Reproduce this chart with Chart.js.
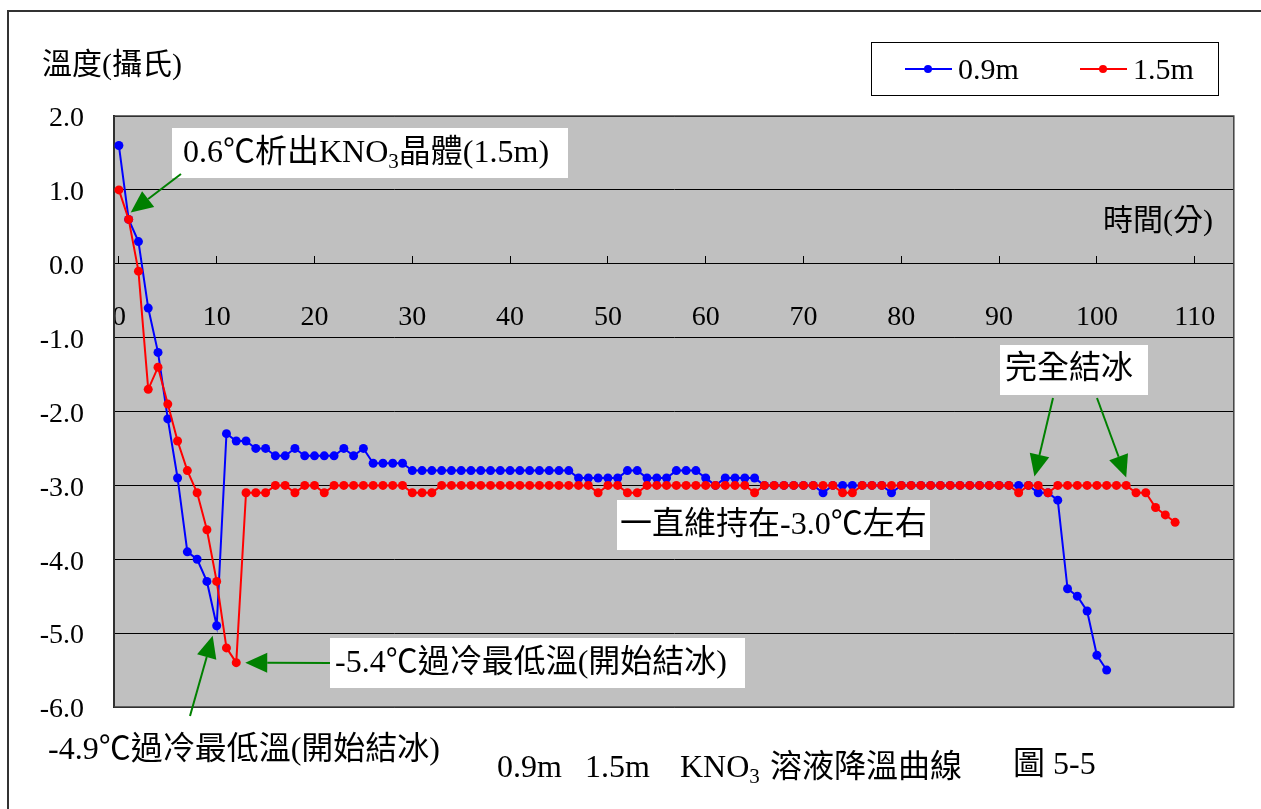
<!DOCTYPE html>
<html>
<head>
<meta charset="utf-8">
<script src="https://cdn.jsdelivr.net/npm/chart.js@4.4.1/dist/chart.umd.min.js"></script>
<style>
  html, body { margin: 0; padding: 0; background: #fff; }
  #wrap { width: 1261px; height: 809px; }
</style>
</head>
<body>
<div id="wrap"><canvas id="coolingChart" width="1261" height="809"></canvas></div>
<script>
// 時間(分)
const timeMin = [
  0, 1, 2, 3, 4, 5, 6, 7, 8, 9,
  10, 11, 12, 13, 14, 15, 16, 17, 18, 19,
  20, 21, 22, 23, 24, 25, 26, 27, 28, 29,
  30, 31, 32, 33, 34, 35, 36, 37, 38, 39,
  40, 41, 42, 43, 44, 45, 46, 47, 48, 49,
  50, 51, 52, 53, 54, 55, 56, 57, 58, 59,
  60, 61, 62, 63, 64, 65, 66, 67, 68, 69,
  70, 71, 72, 73, 74, 75, 76, 77, 78, 79,
  80, 81, 82, 83, 84, 85, 86, 87, 88, 89,
  90, 91, 92, 93, 94, 95, 96, 97, 98, 99,
  100, 101, 102, 103, 104, 105, 106, 107, 108
];

// 0.9m 溫度
const temp09 = [
  1.6, 0.6, 0.3, -0.6, -1.2, -2.1, -2.9, -3.9, -4.0, -4.3,
  -4.9, -2.3, -2.4, -2.4, -2.5, -2.5, -2.6, -2.6, -2.5, -2.6,
  -2.6, -2.6, -2.6, -2.5, -2.6, -2.5, -2.7, -2.7, -2.7, -2.7,
  -2.8, -2.8, -2.8, -2.8, -2.8, -2.8, -2.8, -2.8, -2.8, -2.8,
  -2.8, -2.8, -2.8, -2.8, -2.8, -2.8, -2.8, -2.9, -2.9, -2.9,
  -2.9, -2.9, -2.8, -2.8, -2.9, -2.9, -2.9, -2.8, -2.8, -2.8,
  -2.9, -3.0, -2.9, -2.9, -2.9, -2.9, -3.0, -3.0, -3.0, -3.0,
  -3.0, -3.0, -3.1, -3.0, -3.0, -3.0, -3.0, -3.0, -3.0, -3.1,
  -3.0, -3.0, -3.0, -3.0, -3.0, -3.0, -3.0, -3.0, -3.0, -3.0,
  -3.0, -3.0, -3.0, -3.0, -3.1, -3.1, -3.2, -4.4, -4.5, -4.7,
  -5.3, -5.5
];

// 1.5m 溫度
const temp15 = [
  1.0, 0.6, -0.1, -1.7, -1.4, -1.9, -2.4, -2.8, -3.1, -3.6,
  -4.3, -5.2, -5.4, -3.1, -3.1, -3.1, -3.0, -3.0, -3.1, -3.0,
  -3.0, -3.1, -3.0, -3.0, -3.0, -3.0, -3.0, -3.0, -3.0, -3.0,
  -3.1, -3.1, -3.1, -3.0, -3.0, -3.0, -3.0, -3.0, -3.0, -3.0,
  -3.0, -3.0, -3.0, -3.0, -3.0, -3.0, -3.0, -3.0, -3.0, -3.1,
  -3.0, -3.0, -3.1, -3.1, -3.0, -3.0, -3.0, -3.0, -3.0, -3.0,
  -3.0, -3.0, -3.0, -3.0, -3.0, -3.1, -3.0, -3.0, -3.0, -3.0,
  -3.0, -3.0, -3.0, -3.0, -3.1, -3.1, -3.0, -3.0, -3.0, -3.0,
  -3.0, -3.0, -3.0, -3.0, -3.0, -3.0, -3.0, -3.0, -3.0, -3.0,
  -3.0, -3.0, -3.1, -3.0, -3.0, -3.1, -3.0, -3.0, -3.0, -3.0,
  -3.0, -3.0, -3.0, -3.0, -3.1, -3.1, -3.3, -3.4, -3.5
];

const seriesNames = ['0.9m', '1.5m'];
const xTicks = [0, 10, 20, 30, 40, 50, 60, 70, 80, 90, 100, 110];
const yTicks = [2, 1, 0, -1, -2, -3, -4, -5, -6];

const FONT = '"Liberation Serif", "Noto Sans CJK TC", serif';
const GREEN = '#008000';

function toPoints(vals) {
  return vals.map((v, i) => ({ x: timeMin[i], y: v }));
}

// 文字(含下標)
function drawRuns(ctx, x, y, runs, size) {
  ctx.textBaseline = 'middle';
  ctx.textAlign = 'left';
  ctx.fillStyle = '#000';
  runs.forEach(r => {
    const s = r.sub ? Math.round(size * 0.65) : size;
    ctx.font = s + 'px ' + FONT;
    ctx.fillText(r.t, x, r.sub ? y + size * 0.28 : y);
    x += ctx.measureText(r.t).width;
  });
}

function arrow(ctx, x1, y1, x2, y2) {
  const a = Math.atan2(y2 - y1, x2 - x1);
  const head = 22, half = 10;
  const bx = x2 - head * Math.cos(a), by = y2 - head * Math.sin(a);
  ctx.strokeStyle = GREEN;
  ctx.fillStyle = GREEN;
  ctx.lineWidth = 2;
  ctx.beginPath();
  ctx.moveTo(x1, y1);
  ctx.lineTo(bx, by);
  ctx.stroke();
  ctx.beginPath();
  ctx.moveTo(x2, y2);
  ctx.lineTo(bx + half * Math.sin(a), by - half * Math.cos(a));
  ctx.lineTo(bx - half * Math.sin(a), by + half * Math.cos(a));
  ctx.closePath();
  ctx.fill();
}

function whiteBox(ctx, x, y, w, h) {
  ctx.fillStyle = '#fff';
  ctx.fillRect(x, y, w, h);
}

const decorations = {
  id: 'decorations',
  beforeDraw(chart) {
    const { ctx, chartArea: a } = chart;
    ctx.save();
    ctx.fillStyle = '#fff';
    ctx.fillRect(0, 0, chart.width, chart.height);
    // 外框
    ctx.strokeStyle = '#333';
    ctx.lineWidth = 2;
    ctx.beginPath();
    ctx.moveTo(8, 809);
    ctx.lineTo(8, 11);
    ctx.lineTo(1261, 11);
    ctx.stroke();
    // 繪圖區
    ctx.fillStyle = '#c0c0c0';
    ctx.fillRect(a.left, a.top, a.right - a.left, a.bottom - a.top);
    ctx.restore();
  },
  beforeDatasetsDraw(chart) {
    const { ctx, chartArea: a } = chart;
    ctx.save();
    ctx.strokeStyle = '#404040';
    ctx.lineWidth = 1.5;
    ctx.strokeRect(a.left, a.top, a.right - a.left, a.bottom - a.top);
    ctx.restore();
  },
  afterDraw(chart) {
    const { ctx } = chart;
    const ds = chart.data.datasets;
    ctx.save();

    // 圖例
    ctx.fillStyle = '#fff';
    ctx.fillRect(871, 42, 347, 53);
    ctx.strokeStyle = '#000';
    ctx.lineWidth = 1;
    ctx.strokeRect(871.5, 42.5, 347, 53);
    [[905, ds[0]], [1080, ds[1]]].forEach(([lx, d]) => {
      ctx.strokeStyle = d.borderColor;
      ctx.lineWidth = 2;
      ctx.beginPath();
      ctx.moveTo(lx, 69);
      ctx.lineTo(lx + 47, 69);
      ctx.stroke();
      ctx.fillStyle = d.borderColor;
      ctx.beginPath();
      ctx.arc(lx + 23, 69, 4, 0, Math.PI * 2);
      ctx.fill();
      drawRuns(ctx, lx + 53, 71, [{ t: d.label }], 30);
    });

    // 軸標題
    drawRuns(ctx, 42, 66, [{ t: '溫度(攝氏)' }], 30);
    drawRuns(ctx, 1103, 222, [{ t: '時間(分)' }], 30);

    // 註解
    whiteBox(ctx, 172, 128, 396, 50);
    drawRuns(ctx, 183, 154, [{ t: '0.6℃析出KNO' }, { t: '3', sub: true }, { t: '晶體(1.5m)' }], 32);

    whiteBox(ctx, 330, 638, 415, 50);
    drawRuns(ctx, 335, 664, [{ t: '-5.4℃過冷最低溫(開始結冰)' }], 32);

    drawRuns(ctx, 48, 751, [{ t: '-4.9℃過冷最低溫(開始結冰)' }], 32);

    whiteBox(ctx, 617, 500, 313, 50);
    drawRuns(ctx, 620, 526, [{ t: '一直維持在-3.0℃左右' }], 32);

    whiteBox(ctx, 1000, 345, 148, 50);
    drawRuns(ctx, 1005, 370, [{ t: '完全結冰' }], 32);

    // 圖說
    drawRuns(ctx, 497, 769, [{ t: '0.9m' }], 32);
    drawRuns(ctx, 585, 769, [{ t: '1.5m' }], 32);
    drawRuns(ctx, 680, 769, [{ t: 'KNO' }, { t: '3', sub: true }], 32);
    drawRuns(ctx, 770, 769, [{ t: '溶液降溫曲線' }], 32);
    drawRuns(ctx, 1013, 766, [{ t: '圖 5-5' }], 32);

    // 箭頭 (指向資料點)
    const pt = (di, idx) => chart.getDatasetMeta(di).data[idx];
    const arrows = [
      [1, 1, 181, 174, 2, -7],
      [0, 10, 190, 716, -4, 10],
      [1, 12, 330, 663, 9, 0],
      [1, 93, 1053, 398, 6, -9],
      [1, 103, 1097, 398, 0, -8]
    ];
    arrows.forEach(([di, idx, x1, y1, dx, dy]) => {
      const p = pt(di, idx);
      arrow(ctx, x1, y1, p.x + dx, p.y + dy);
    });
    ctx.restore();
  }
};

const ctx = document.getElementById('coolingChart').getContext('2d');
new Chart(ctx, {
  type: 'line',
  data: {
    datasets: [
      {
        label: seriesNames[0],
        data: toPoints(temp09),
        borderColor: '#0000ff',
        backgroundColor: '#0000ff',
        borderWidth: 2,
        pointRadius: 4.5,
        pointBorderWidth: 0,
        order: 1
      },
      {
        label: seriesNames[1],
        data: toPoints(temp15),
        borderColor: '#ff0000',
        backgroundColor: '#ff0000',
        borderWidth: 2,
        pointRadius: 4.5,
        pointBorderWidth: 0,
        order: 0
      }
    ]
  },
  options: {
    responsive: false,
    animation: false,
    devicePixelRatio: 1,
    layout: { padding: { top: 116, right: 24, bottom: 102, left: 0 } },
    plugins: {
      legend: { display: false },
      tooltip: { enabled: false }
    },
    scales: {
      x: {
        type: 'linear',
        min: -0.5,
        max: 114,
        position: { y: 0 },
        afterBuildTicks: s => { s.ticks = xTicks.map(v => ({ value: v })); },
        border: { display: true, color: '#000', width: 1 },
        grid: { drawOnChartArea: false, drawTicks: true, tickLength: -8, color: '#000' },
        ticks: {
          padding: 45,
          color: '#000',
          maxRotation: 0,
          font: { family: FONT, size: 28 }
        }
      },
      y: {
        min: -6,
        max: 2,
        afterBuildTicks: s => { s.ticks = yTicks.map(v => ({ value: v })); },
        afterFit: s => { s.width = 114; },
        border: { display: true, color: '#000', width: 2 },
        grid: { color: '#000', lineWidth: 1, drawTicks: false },
        ticks: {
          padding: 30,
          labelOffset: 3,
          color: '#000',
          font: { family: FONT, size: 28 },
          callback: v => v.toFixed(1)
        }
      }
    }
  },
  plugins: [decorations]
});
</script>
</body>
</html>
